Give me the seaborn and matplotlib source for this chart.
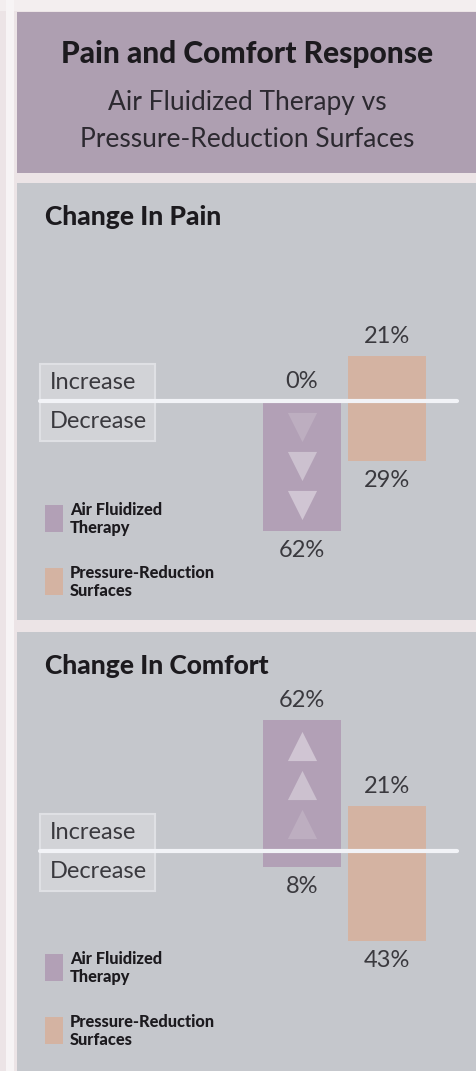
import matplotlib
matplotlib.use("Agg")
import matplotlib.pyplot as plt
from matplotlib.patches import Rectangle
import seaborn as sns
import pandas as pd

# ---------------- data ----------------
surfaces = ["Air Fluidized Therapy", "Pressure-Reduction Surfaces"]
legend_labels = ["Air Fluidized\nTherapy", "Pressure-Reduction\nSurfaces"]
pain_increase = [0, 21]
pain_decrease = [62, 29]
comfort_increase = [62, 21]
comfort_decrease = [8, 43]
title = "Pain and Comfort Response"
subtitle = "Air Fluidized Therapy vs\nPressure-Reduction Surfaces"
panel_titles = ["Change In Pain", "Change In Comfort"]

# ---------------- style ----------------
bar_colors = ["#b2a0b6", "#d4b3a2"]
header_col = "#ae9fb1"
panel_col = "#c5c7cc"
page_col = "#ece4e6"
text_dark = "#1c1a1e"
text_mid = "#3a393e"

W, H = 477, 1071
sns.set_theme(style="white")
plt.rcParams['font.family'] = ['Lato', 'DejaVu Sans']

fig = plt.figure(figsize=(W / 100, H / 100), dpi=100)
fig.patch.set_facecolor(page_col)
bg = fig.add_axes([0, 0, 1, 1])
bg.set_xlim(0, W)
bg.set_ylim(H, 0)
bg.axis("off")

# white vertical band on the left page edge
bg.add_patch(Rectangle((6, 0), 8, H, fc="#f7f4f5", ec="none"))
bg.add_patch(Rectangle((0, 0), W, 11, fc="#f3eeef", ec="none", zorder=0))

# header
bg.add_patch(Rectangle((17, 12), W - 17, 161, fc=header_col, ec="none"))
bg.text(247, 63, title, ha="center", va="baseline", fontsize=21.5,
        fontweight="black", color=text_dark)
sub1, sub2 = subtitle.split("\n")
bg.text(247, 110, sub1, ha="center", va="baseline", fontsize=19,
        fontweight="normal", color="#2c2930")
bg.text(247, 147, sub2, ha="center", va="baseline", fontsize=19,
        fontweight="normal", color="#2c2930")

PX = 2.1          # pixels per percent
CX = [302, 387]   # bar centres in pixels
UNIT = CX[1] - CX[0]


def pix_axes(x0, y0, x1, y1):
    return fig.add_axes([x0 / W, 1 - y1 / H, (x1 - x0) / W, (y1 - y0) / H])


def draw_panel(top, bottom, baseline, ptitle, inc, dec, marker):
    bg.add_patch(Rectangle((17, top), W - 17, bottom - top, fc=panel_col, ec="none"))
    bg.text(45, top + 42, ptitle, ha="left", va="baseline", fontsize=19,
            fontweight="black", color=text_dark)
    # Increase / Decrease label box
    bg.add_patch(Rectangle((40, baseline - 37), 115, 77, fc="#d2d3d7",
                           ec="#dfe0e4", lw=1.5))
    bg.text(50, baseline - 18, "Increase", ha="left", va="center", fontsize=17,
            fontweight="normal", color=text_mid)
    bg.text(50, baseline + 21, "Decrease", ha="left", va="center", fontsize=17,
            fontweight="normal", color=text_mid)
    # legend
    for k, (lab, col) in enumerate(zip(legend_labels, bar_colors)):
        y0 = top + 322 + k * 63
        bg.add_patch(Rectangle((45, y0), 18, 27, fc=col, ec="none"))
        l1, l2 = lab.split("\n")
        bg.text(70, y0 + 5, l1, ha="left", va="center", fontsize=11.8,
                fontweight="black", color=text_dark)
        bg.text(70, y0 + 23, l2, ha="left", va="center", fontsize=11.8,
                fontweight="black", color=text_dark)

    ax = pix_axes(17, top, W, bottom)
    ax.patch.set_alpha(0)
    df = pd.DataFrame({"surface": surfaces, "inc": inc,
                       "dec": [-d for d in dec]})
    for col in ["inc", "dec"]:
        sns.barplot(data=df, x="surface", y=col, hue="surface",
                    palette=bar_colors, width=0.91, saturation=1,
                    legend=False, ax=ax, linewidth=0)
    ax.set_xlim((17 - CX[0]) / UNIT, (W - CX[0]) / UNIT)
    ax.set_ylim(-(bottom - baseline) / PX, (baseline - top) / PX)
    ax.axhline(0, xmin=(40 - 17) / (W - 17), xmax=(457 - 17) / (W - 17),
               color="#f2f3f7", lw=3, zorder=5)

    # value labels
    for i in range(2):
        ax.annotate(f"{inc[i]}%", (i, inc[i]), xytext=(0, 14),
                    textcoords="offset points", ha="center", va="center",
                    fontsize=17, fontweight="normal", color=text_mid)
        ax.annotate(f"{dec[i]}%", (i, -dec[i]), xytext=(0, -14),
                    textcoords="offset points", ha="center", va="center",
                    fontsize=17, fontweight="normal", color=text_mid)

    # arrow triangles inside the air fluidized bar
    main = dec[0] if marker == "v" else inc[0]
    sign = -1 if marker == "v" else 1
    for frac, alpha in zip([0.2, 0.5, 0.8], [0.15, 0.35, 0.4]):
        ax.scatter([0], [sign * frac * main], marker=marker, s=440,
                   color="white", alpha=alpha, linewidths=0, zorder=4)
    ax.axis("off")


draw_panel(183, 620, 400.5, panel_titles[0], pain_increase, pain_decrease, "v")
draw_panel(632, 1071, 850.5, panel_titles[1], comfort_increase, comfort_decrease, "^")

fig.savefig("out.png", dpi=100, facecolor=fig.get_facecolor())
